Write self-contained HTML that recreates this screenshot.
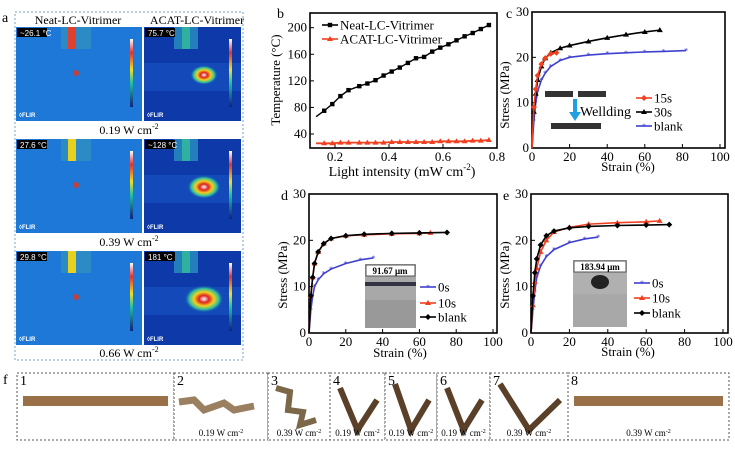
<!DOCTYPE html>
<html><head><meta charset="utf-8"><style>
body{margin:0;background:#fff}
svg{display:block;font-family:"Liberation Serif",serif}
</style></head><body>
<svg id="fig" width="735" height="449" viewBox="0 0 735 449" xmlns="http://www.w3.org/2000/svg">
<defs>
<radialGradient id="hotA" cx="50%" cy="50%" r="50%"><stop offset="0" stop-color="#fff"/><stop offset="0.25" stop-color="#e02020"/><stop offset="0.5" stop-color="#f0d020"/><stop offset="0.75" stop-color="#30c0a0"/><stop offset="1" stop-color="#1040b0" stop-opacity="0"/></radialGradient>
<linearGradient id="cbar" x1="0" y1="0" x2="0" y2="1"><stop offset="0" stop-color="#fff"/><stop offset="0.2" stop-color="#e03030"/><stop offset="0.45" stop-color="#f0e020"/><stop offset="0.65" stop-color="#20c0a0"/><stop offset="1" stop-color="#102080"/></linearGradient>
</defs>

<g>
<text x="2" y="22" font-size="14">a</text>
<rect x="15" y="12" width="228" height="348" fill="none" stroke="#7aa0c8" stroke-dasharray="2,2"/>
<text x="78" y="24" font-size="12" text-anchor="middle">Neat-LC-Vitrimer</text>
<text x="197" y="24" font-size="12" text-anchor="middle">ACAT-LC-Vitrimer</text>
<g id="thermal"></g>
<text x="129" y="134" font-size="12" text-anchor="middle">0.19 W cm<tspan font-size="8" dy="-5">-2</tspan></text>
<text x="129" y="246" font-size="12" text-anchor="middle">0.39 W cm<tspan font-size="8" dy="-5">-2</tspan></text>
<text x="129" y="357" font-size="12" text-anchor="middle">0.66 W cm<tspan font-size="8" dy="-5">-2</tspan></text>
</g>

<g id="charts"></g>

<g>
<text x="3" y="384" font-size="14">f</text>
<g id="photos"></g>
</g>
</svg>
<script>
const bIntensity=[0.13,0.16,0.19,0.22,0.25,0.29,0.32,0.35,0.38,0.41,0.44,0.47,0.50,0.53,0.56,0.59,0.62,0.65,0.68,0.71,0.74,0.77];
const bNeat=[66,75,85,97,106,112,116,121,128,134,140,147,154,156,164,170,175,181,187,192,198,204];
const bAcat=[26,26,26,27,27,27,27,27,27,28,28,28,28,28,28,29,29,29,29,30,30,31];
const bXTicks=[0.2,0.4,0.6,0.8];
const bYTicks=[40,80,120,160,200];
const strainTicks=[0,20,40,60,80,100];
const stressTicks=[0,10,20,30];
const cBlankX=[0,1,2,3,5,7,10,15,20,30,40,50,60,70,82];
const cBlankY=[0,6,10,12.5,15,16.5,18,19.3,20,20.5,20.8,21,21.2,21.3,21.5];
const c30X=[0,1,2,3,5,7,10,15,20,30,40,50,60,68];
const c30Y=[0,8,12,15,18,19.8,21,22,22.6,23.5,24.3,25,25.6,26];
const c15X=[0,1,2,3,5,7,10,13];
const c15Y=[0,9,13,16,18.5,19.8,20.8,21];
const d0X=[0,1,2,3,5,8,12,20,28,35];
const d0Y=[0,5,8,10,11.5,12.8,13.8,15,15.8,16.2];
const d10X=[0,1,2,3,5,8,12,20,30,45,60,66];
const d10Y=[0,8,12,15,17.5,19.3,20.4,21,21.2,21.4,21.5,21.6];
const dBlankX=[0,1,2,3,5,8,12,20,30,45,60,75];
const dBlankY=[0,8,12,15,17.5,19.3,20.4,21,21.3,21.5,21.6,21.7];
const e0X=[0,1,2,3,5,8,12,20,28,35];
const e0Y=[0,5,9,12,14.5,16.5,18,19.5,20.3,20.7];
const e10X=[0,1,2,3,5,8,12,20,30,45,60,67];
const e10Y=[0,6,11,14,17.5,20,21.8,22.8,23.5,23.8,24,24.2];
const eBlankX=[0,1,2,3,5,8,12,20,30,45,60,72];
const eBlankY=[0,8,13,16,19,21,22,22.7,23,23.2,23.3,23.4];
const thermalMax=[["~26.1","75.7"],["27.6","~128"],["29.8","181"]];
const photoLabels=["1","2","3","4","5","6","7","8"];
const photoCaptions=["","0.19 W cm","0.39 W cm","0.19 W cm","0.19 W cm","0.19 W cm","0.39 W cm","0.39 W cm"];

const NS="http://www.w3.org/2000/svg";
function mk(tag,attrs,parent,txt){const e=document.createElementNS(NS,tag);for(const k in attrs)e.setAttribute(k,attrs[k]);if(txt!==undefined)e.textContent=txt;parent.appendChild(e);return e;}

const th=document.getElementById('thermal');
const rowsY=[27,139,251];
rowsY.forEach((y,r)=>{
  [0,1].forEach(c=>{
    const x=c?144:16, w=c?97:126, h=94;
    const g=mk('g',{},th);
    
    
    mk('rect',{x:x,y:y,width:w,height:h,fill:c?'#0d3aa8':'#1e78d8'},g);
    mk('rect',{x:x+(c?30:45),y:y,width:c?24:30,height:22,fill:c?'#2a90c0':'#3090c0',opacity:0.8},g);
    mk('rect',{x:x+(c?38:52),y:y,width:8,height:22,fill:c?'#30b0a0':(r?'#e8d020':'#e04030')},g);
    if(c){mk('rect',{x:x,y:y+36,width:w,height:28,fill:'#1850c0',opacity:0.7},g);
      mk('ellipse',{cx:x+60,cy:y+48,rx:14+r*3,ry:10+r*2,fill:'url(#hotA)'},g);}
    else{mk('circle',{cx:x+60,cy:y+46,r:3,fill:'#c04040'},g);}
    mk('rect',{x:x+1,y:y+1,width:30,height:9,fill:'#000'},g);
    mk('text',{x:x+4,y:y+9,'font-size':8,fill:'#fff','font-family':'Liberation Sans, sans-serif'},g,thermalMax[r][c]+" °C");
    mk('text',{x:x+3,y:y+h-4,'font-size':6,fill:'#fff','font-family':'Liberation Sans, sans-serif','font-weight':'bold'},g,"◊FLIR");
    mk('rect',{x:x+w-12,y:y+12,width:3,height:h-26,fill:'url(#cbar)'},g);
  });
});

const ch=document.getElementById('charts');
function axes(name,box,xd,yd,xt,yt,fmtX){
  const g=mk('g',{},ch);
  
  
  const sx=v=>box.x0+(v-xd[0])/(xd[1]-xd[0])*(box.x1-box.x0);
  const sy=v=>box.y0+(v-yd[0])/(yd[1]-yd[0])*(box.y1-box.y0);
  mk('rect',{x:box.l,y:box.t,width:box.r-box.l,height:box.b-box.t,fill:'none',stroke:'#000','stroke-width':1.6},g);
  xt.forEach(v=>{const t=mk('text',{x:sx(v),y:box.b+13,'font-size':13,'text-anchor':'middle'},g,fmtX?fmtX(v):v);
    
    mk('line',{x1:sx(v),x2:sx(v),y1:box.b,y2:box.b-4,stroke:'#000'},g);});
  yt.forEach(v=>{const t=mk('text',{x:box.l-3,y:sy(v)+4,'font-size':13,'text-anchor':'end'},g,v);
    
    mk('line',{x1:box.l,x2:box.l+4,y1:sy(v),y2:sy(v),stroke:'#000'},g);});
  return {g,sx,sy};
}
function marker(g,type,x,y,col){
  if(type==='sq')mk('rect',{x:x-2.2,y:y-2.2,width:4.4,height:4.4,fill:col},g);
  else if(type==='tri')mk('path',{d:`M${x},${y-3}L${x+3},${y+2}L${x-3},${y+2}Z`,fill:col},g);
  else if(type==='dia')mk('path',{d:`M${x},${y-3}L${x+3},${y}L${x},${y+3}L${x-3},${y}Z`,fill:col},g);
  else mk('text',{x:x,y:y+3,'font-size':8,'text-anchor':'middle',fill:col},g,'*');
}
function series(ax,name,xs,ys,col,mt,w){
  const s=mk('g',{},ax.g);
  
  
  mk('polyline',{points:xs.map((v,i)=>ax.sx(v)+','+ax.sy(ys[i])).join(' '),fill:'none',stroke:col,'stroke-width':w||1.6},s);
  xs.forEach((v,i)=>{if(i>0)marker(s,mt,ax.sx(v),ax.sy(ys[i]),col);});
}
function legend(g,x,y,col,mt,label){
  const l=mk('g',{},g);
  
  
  mk('line',{x1:x,x2:x+16,y1:y,y2:y,stroke:col,'stroke-width':1.6},l);
  marker(l,mt,x+8,y,col);
  mk('text',{x:x+18,y:y+4.5,'font-size':13},l,label);
}
function ylab(g,x,y,t){const e=mk('text',{x:x,y:y,'font-size':13,'text-anchor':'middle',transform:`rotate(-90 ${x} ${y})`},g,t);}
function xlab(g,x,y,t,sz){const e=mk('text',{x:x,y:y,'font-size':sz||13,'text-anchor':'middle'},g,t);return e;}
function plabel(g,x,y,t){const e=mk('text',{x:x,y:y,'font-size':14},g,t);}

const B=axes('panel-b-chart',{l:310,r:497,t:13,b:148,x0:335,x1:497,y0:134,y1:27.7},[0.2,0.8],[40,200],bXTicks,bYTicks,v=>v.toFixed(1));
series(B,'series-neat',bIntensity,bNeat,'#000','sq',1.4);
series(B,'series-acat',bIntensity,bAcat,'#f04020','tri',1.8);
legend(B.g,322,25,'#000','sq','Neat-LC-Vitrimer');
legend(B.g,322,39,'#f04020','tri','ACAT-LC-Vitrimer');
ylab(B.g,280,80,'Temperature (°C)');
const xb=xlab(B.g,402,176,'Light intensity (mW cm',14);mk('tspan',{'font-size':9,dy:-6},xb,'-2');mk('tspan',{dy:6},xb,')');
plabel(B.g,277,18,'b');

const C=axes('panel-c-chart',{l:532,r:725,t:12,b:148,x0:532,x1:720,y0:148,y1:12},[0,100],[0,30],strainTicks,stressTicks);
series(C,'series-c-blank',cBlankX,cBlankY,'#4040d0','star');
series(C,'series-c-30s',c30X,c30Y,'#000','tri');
series(C,'series-c-15s',c15X,c15Y,'#f04020','dia');
[[545,91,28],[578,91,28],[551,123,50]].forEach(b=>{const r=mk('rect',{x:b[0],y:b[1],width:b[2],height:6,fill:'#333'},C.g);});
mk('rect',{x:573,y:99,width:4,height:14,fill:'#20a0e0'},C.g);
mk('path',{d:'M569,112L581,112L575,121Z',fill:'#20a0e0'},C.g);
mk('text',{x:580,y:116,'font-size':14},C.g,'Wellding');
legend(C.g,636,98,'#f04020','dia','15s');
legend(C.g,636,112,'#000','tri','30s');
legend(C.g,636,126,'#4040d0','star','blank');
ylab(C.g,509,95,'Stress (MPa)');
xlab(C.g,628,171,'Strain (%)');
plabel(C.g,506,18,'c');

const D=axes('panel-d-chart',{l:309,r:497,t:194,b:333,x0:309,x1:493,y0:333,y1:194},[0,100],[0,30],strainTicks,stressTicks);
mk('rect',{x:365,y:264,width:51,height:36,fill:'#a8a8a8'},D.g);
mk('rect',{x:365,y:300,width:51,height:28,fill:'#999'},D.g);
mk('rect',{x:366,y:265,width:49,height:11,fill:'#fff',stroke:'#555'},D.g);
mk('text',{x:390,y:274,'font-size':9,'font-weight':'bold','text-anchor':'middle'},D.g,'91.67 μm');
mk('rect',{x:365,y:282,width:51,height:4,fill:'#334'},D.g);
series(D,'series-d-0s',d0X,d0Y,'#4040d0','star');
series(D,'series-d-10s',d10X,d10Y,'#f04020','tri');
series(D,'series-d-blank',dBlankX,dBlankY,'#000','dia');
legend(D.g,420,287,'#4040d0','star','0s');
legend(D.g,420,303,'#f04020','tri','10s');
legend(D.g,420,317,'#000','dia','blank');
ylab(D.g,287,275,'Stress (MPa)');
xlab(D.g,400,357,'Strain (%)');
plabel(D.g,281,200,'d');

const E=axes('panel-e-chart',{l:531,r:728,t:194,b:333,x0:531,x1:723,y0:333,y1:194},[0,100],[0,30],strainTicks,stressTicks);
mk('rect',{x:573,y:260,width:54,height:34,fill:'#b0b0b0'},E.g);
mk('rect',{x:573,y:294,width:54,height:33,fill:'#a8a8a8'},E.g);
mk('rect',{x:574,y:261,width:52,height:11,fill:'#fff',stroke:'#555'},E.g);
mk('text',{x:600,y:270,'font-size':9,'font-weight':'bold','text-anchor':'middle'},E.g,'183.94 μm');
mk('ellipse',{cx:600,cy:282,rx:9,ry:7,fill:'#222'},E.g);
series(E,'series-e-0s',e0X,e0Y,'#4040d0','star');
series(E,'series-e-10s',e10X,e10Y,'#f04020','tri');
series(E,'series-e-blank',eBlankX,eBlankY,'#000','dia');
legend(E.g,634,283,'#4040d0','star','0s');
legend(E.g,634,298,'#f04020','tri','10s');
legend(E.g,634,313,'#000','dia','blank');
ylab(E.g,509,275,'Stress (MPa)');
xlab(E.g,628,356,'Strain (%)');
plabel(E.g,503,200,'e');

const ph=document.getElementById('photos');
const bx=[17,174,268,330,385,437,490,568,729];
photoLabels.forEach((lab,i)=>{
  const g=mk('g',{},ph);
  
  
  const x=bx[i],w=bx[i+1]-bx[i];
  mk('rect',{x:x,y:373,width:w,height:67,fill:'#fff',stroke:'#555','stroke-dasharray':'2,2'},g);
  mk('text',{x:x+3,y:385,'font-size':14},g,lab);
  const cx=x+w/2;
  if(i===0||i===7){mk('rect',{x:x+6,y:396,width:w-12,height:10,fill:'#9a7048'},g);}
  else if(i===1){mk('polyline',{points:`${x+5},402 ${x+20},400 ${x+30},410 ${x+50},403 ${x+60},410 ${x+80},406`,fill:'none',stroke:'#9a8060','stroke-width':7},g);}
  else if(i===2){mk('polyline',{points:`${x+8},388 ${x+22},392 ${x+20},410 ${x+35},412 ${x+32},425 ${x+48},420`,fill:'none',stroke:'#7a6848','stroke-width':6},g);}
  else{mk('polyline',{points:`${x+10},${384+(i%2)*4} ${cx},430 ${x+w-8},400`,fill:'none',stroke:'#5a4028','stroke-width':6},g);}
  if(photoCaptions[i]){const t=mk('text',{x:cx,y:436,'font-size':9,'text-anchor':'middle'},g,photoCaptions[i]);mk('tspan',{'font-size':6,dy:-3},t,'-2');}
});
</script>
</body></html>
